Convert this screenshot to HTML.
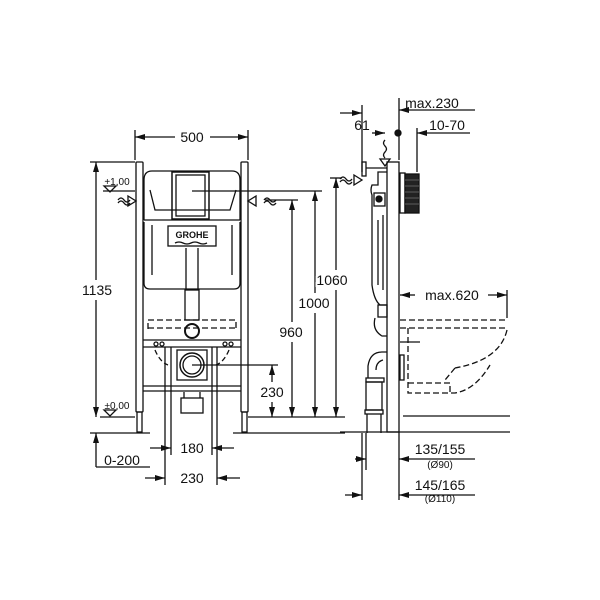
<!DOCTYPE html>
<html><head><meta charset="utf-8"><style>
html,body{margin:0;padding:0;background:#fff}
svg{display:block}
text{font-family:"Liberation Sans",sans-serif;fill:#111}
</style></head><body>
<svg width="600" height="600" viewBox="0 0 600 600" xmlns="http://www.w3.org/2000/svg">
<defs>
<marker id="a" markerWidth="10" markerHeight="6" refX="10" refY="3" orient="auto-start-reverse" markerUnits="userSpaceOnUse"><path d="M0,0 L10,3 L0,6 z" fill="#111"/></marker>
</defs>
<g stroke="#111" stroke-width="1.3" fill="none">
<line x1="135" y1="130" x2="135" y2="160"/><line x1="248" y1="130" x2="248" y2="160"/>
<line x1="135" y1="137" x2="175" y2="137" marker-start="url(#a)"/><line x1="210" y1="137" x2="248" y2="137" marker-end="url(#a)"/>
<rect x="136" y="162" width="7" height="250" rx="1"/><rect x="241" y="162" width="7" height="250" rx="1"/>
<rect x="137" y="412" width="5" height="20"/><rect x="242" y="412" width="5" height="20"/>
<path d="M144,220 L144,180 Q144,171 152,171 L232,171 Q240,171 240,180 L240,220"/>
<path d="M150,190 L155,210 L230,210 L236,190"/>
<rect x="172" y="172" width="37" height="47" stroke-width="1.5"/>
<rect x="176" y="175" width="29" height="41"/>
<line x1="144" y1="220" x2="240" y2="220"/>
<path d="M144,222 L144,283 Q144,289 150,289 L234,289 Q240,289 240,283 L240,222"/>
<rect x="168" y="226" width="48" height="20"/>
<text x="192" y="238" font-size="9" text-anchor="middle" font-weight="bold" stroke="none">GROHE</text>
<path d="M175,243 q4,-2 8,0 t8,0 t8,0 t8,0"/>
<line x1="152" y1="225" x2="152" y2="275"/><line x1="232" y1="225" x2="232" y2="275"/>
<line x1="186" y1="248" x2="186" y2="290"/><line x1="198" y1="248" x2="198" y2="290"/>
<rect x="185" y="290" width="14" height="30"/>
<circle cx="192" cy="331" r="7" stroke-width="2"/>
<path d="M148,329 L148,320 L236,320 L236,329 M148,328 L236,328" stroke-dasharray="6,3"/>
<line x1="143" y1="340" x2="241" y2="340"/><line x1="143" y1="347" x2="241" y2="347"/>
<line x1="143" y1="386" x2="241" y2="386"/><line x1="143" y1="391" x2="241" y2="391"/>
<path d="M155,350 Q160,362 168,365 M229,350 Q224,362 216,365" stroke-dasharray="5,3"/>
<rect x="177" y="350" width="30" height="30"/>
<circle cx="192" cy="365" r="12" stroke-width="1.5"/><circle cx="192" cy="365" r="9"/>
<rect x="181" y="398" width="22" height="15"/><line x1="184" y1="392" x2="184" y2="398"/><line x1="200" y1="392" x2="200" y2="398"/>
<circle cx="156" cy="344" r="2"/><circle cx="162" cy="344" r="2"/><circle cx="225" cy="344" r="2"/><circle cx="231" cy="344" r="2"/>
<line x1="100" y1="417" x2="135" y2="417"/><line x1="248" y1="417" x2="345" y2="417"/>
<line x1="90" y1="433" x2="150" y2="433"/><line x1="233" y1="433" x2="345" y2="433"/>
<line x1="90" y1="162" x2="135" y2="162"/>
<line x1="96" y1="162" x2="96" y2="280" marker-start="url(#a)"/><line x1="96" y1="300" x2="96" y2="417" marker-end="url(#a)"/>
<line x1="103" y1="191" x2="135" y2="191"/><path d="M104,186 L116,186 L110,192 z"/>
<path d="M104,410 L116,410 L110,416 z"/>
<path d="M118,200 q3,-4 6,0 t6,0 M118,203 q3,-4 6,0 t6,0"/><path d="M128,196 L136,201 L128,206 z"/>
<path d="M264,200 q3,-4 6,0 t6,0 M264,203 q3,-4 6,0 t6,0"/><path d="M256,196 L248,201 L256,206 z"/>
<line x1="192" y1="191" x2="322" y2="191"/><line x1="265" y1="200" x2="298" y2="200"/>
<line x1="292" y1="200" x2="292" y2="322" marker-start="url(#a)"/><line x1="292" y1="342" x2="292" y2="417" marker-end="url(#a)"/>
<line x1="315" y1="191" x2="315" y2="293" marker-start="url(#a)"/><line x1="315" y1="313" x2="315" y2="417" marker-end="url(#a)"/>
<line x1="330" y1="178" x2="342" y2="178"/>
<line x1="336" y1="178" x2="336" y2="270" marker-start="url(#a)"/><line x1="336" y1="290" x2="336" y2="417" marker-end="url(#a)"/>
<line x1="192" y1="365" x2="278" y2="365"/>
<line x1="272" y1="365" x2="272" y2="382" marker-start="url(#a)"/><line x1="272" y1="402" x2="272" y2="417" marker-end="url(#a)"/>
<line x1="165" y1="347" x2="165" y2="485"/><line x1="171" y1="347" x2="171" y2="455"/>
<line x1="212" y1="347" x2="212" y2="455"/><line x1="217" y1="347" x2="217" y2="485"/>
<line x1="150" y1="448" x2="171" y2="448" marker-end="url(#a)"/><line x1="212" y1="448" x2="234" y2="448" marker-start="url(#a)"/>
<line x1="145" y1="478" x2="165" y2="478" marker-end="url(#a)"/><line x1="217" y1="478" x2="240" y2="478" marker-start="url(#a)"/>
<line x1="96" y1="433" x2="96" y2="467" marker-start="url(#a)"/><line x1="96" y1="467" x2="150" y2="467"/>
<rect x="387" y="162" width="12" height="270"/>
<line x1="399" y1="98" x2="399" y2="160"/>
<line x1="399" y1="110" x2="475" y2="110" marker-start="url(#a)"/>
<line x1="362" y1="105" x2="362" y2="172"/>
<line x1="340" y1="113" x2="362" y2="113" marker-end="url(#a)"/>
<line x1="372" y1="133" x2="385" y2="133" marker-end="url(#a)"/>
<circle cx="398" cy="133" r="3" fill="#111"/>
<line x1="417" y1="128" x2="417" y2="172"/>
<line x1="417" y1="133" x2="470" y2="133" marker-start="url(#a)"/>
<path d="M385,140 q-3,3 0,6 t0,6 t0,6"/><path d="M380,159 L390,159 L385,166 z"/>
<rect x="362" y="162" width="4" height="14"/><line x1="366" y1="168" x2="387" y2="168"/>
<path d="M340,179 q3,-4 6,0 t6,0 M340,182 q3,-4 6,0 t6,0"/><path d="M354,175 L362,180 L354,185 z"/>
<rect x="400" y="173" width="5" height="40"/>
<rect x="405" y="174" width="14" height="39" fill="#222"/>
<g stroke="#888" stroke-width="0.6"><line x1="405" y1="180" x2="419" y2="180"/><line x1="405" y1="186" x2="419" y2="186"/><line x1="405" y1="192" x2="419" y2="192"/><line x1="405" y1="198" x2="419" y2="198"/><line x1="405" y1="204" x2="419" y2="204"/></g>
<path d="M387,172 L378,172 L378,185 L372,185 Q370,190 372,195 L372,285 Q374,300 380,305 L387,305"/>
<rect x="374" y="193" width="11" height="13"/><circle cx="379" cy="199" r="3" fill="#111"/>
<path d="M378,220 L378,285 M383,215 L383,290"/>
<rect x="378" y="305" width="9" height="12"/>
<path d="M375,318 Q372,330 382,336 L387,336"/>
<path d="M387,352 L382,352 Q370,352 368,366 L368,378 M383,360 Q376,362 376,370"/>
<rect x="366" y="378" width="18" height="4"/>
<rect x="366" y="382" width="16" height="28"/>
<rect x="365" y="410" width="18" height="4"/>
<line x1="367" y1="414" x2="367" y2="433"/><line x1="381" y1="414" x2="381" y2="433"/>
<rect x="400" y="355" width="4" height="25"/>
<g stroke-dasharray="6,3">
<line x1="400" y1="320" x2="507" y2="320"/><line x1="400" y1="328" x2="507" y2="328"/>
<path d="M507,330 Q500,360 455,368"/>
<path d="M408,328 L408,393 L455,393 Q475,390 490,365"/>
<path d="M408,383 L450,383 L450,393"/>
<path d="M455,368 L445,380"/>
</g>
<line x1="400" y1="342" x2="420" y2="342"/>
<line x1="507" y1="290" x2="507" y2="318"/>
<line x1="400" y1="295" x2="415" y2="295" marker-start="url(#a)"/><line x1="488" y1="295" x2="507" y2="295" marker-end="url(#a)"/>
<line x1="403" y1="416" x2="510" y2="416"/><line x1="340" y1="432" x2="510" y2="432"/>
<line x1="399" y1="432" x2="399" y2="500"/>
<line x1="366" y1="433" x2="366" y2="470"/><line x1="362" y1="433" x2="362" y2="500"/>
<line x1="355" y1="459" x2="366" y2="459" marker-end="url(#a)"/><line x1="399" y1="459" x2="475" y2="459" marker-start="url(#a)"/>
<line x1="345" y1="495" x2="362" y2="495" marker-end="url(#a)"/><line x1="399" y1="495" x2="475" y2="495" marker-start="url(#a)"/>
</g>
<g stroke="none" font-size="14">
<text x="192" y="142" text-anchor="middle">500</text>
<text x="97" y="295" text-anchor="middle" style="paint-order:stroke" stroke="#fff" stroke-width="4">1135</text>
<text x="291" y="337" text-anchor="middle" style="paint-order:stroke" stroke="#fff" stroke-width="4">960</text>
<text x="314" y="308" text-anchor="middle" style="paint-order:stroke" stroke="#fff" stroke-width="4">1000</text>
<text x="332" y="285" text-anchor="middle" style="paint-order:stroke" stroke="#fff" stroke-width="4">1060</text>
<text x="272" y="397" text-anchor="middle" style="paint-order:stroke" stroke="#fff" stroke-width="4">230</text>
<text x="192" y="453" text-anchor="middle">180</text>
<text x="192" y="483" text-anchor="middle">230</text>
<text x="122" y="465" text-anchor="middle">0-200</text>
<text x="432" y="108" text-anchor="middle">max.230</text>
<text x="362" y="130" text-anchor="middle">61</text>
<text x="447" y="130" text-anchor="middle">10-70</text>
<text x="452" y="300" text-anchor="middle">max.620</text>
<text x="440" y="454" text-anchor="middle">135/155</text>
<text x="440" y="490" text-anchor="middle">145/165</text>
<text x="440" y="468" text-anchor="middle" font-size="10">(Ø90)</text>
<text x="440" y="502" text-anchor="middle" font-size="10">(Ø110)</text>
<text x="117" y="185" text-anchor="middle" font-size="10">+1,00</text>
<text x="117" y="409" text-anchor="middle" font-size="10">±0,00</text>
</g>
</svg>
</body></html>
